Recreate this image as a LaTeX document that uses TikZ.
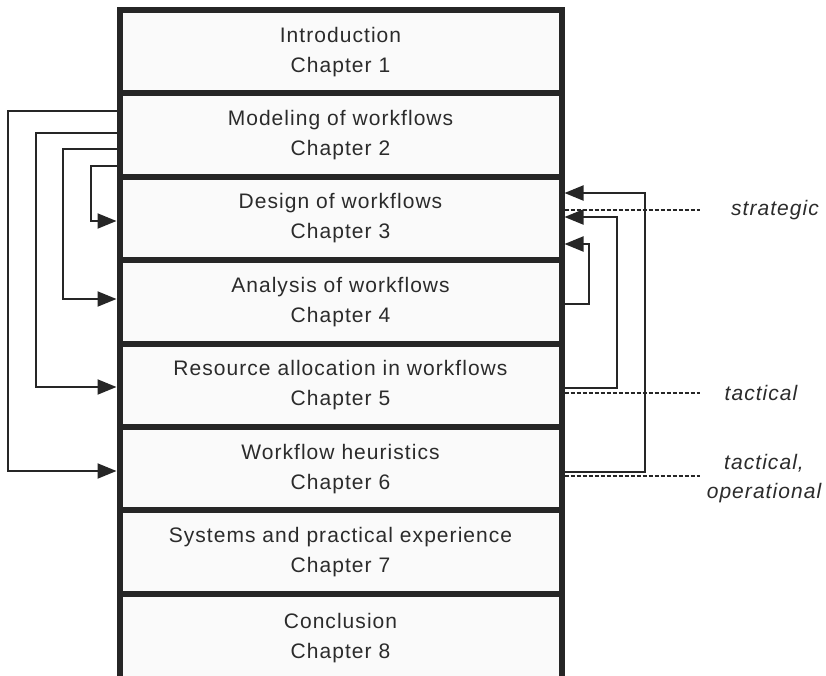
\documentclass[tikz,border=0pt]{standalone}
\usepackage{fontspec}
\setmainfont[LetterSpace=5]{Liberation Sans}
\usetikzlibrary{arrows.meta,calc}
\definecolor{ink}{HTML}{262626}
\definecolor{txt}{HTML}{2B2B2B}
\definecolor{boxfill}{HTML}{FAFAFA}
\tikzset{
  chap/.style={draw=ink, fill=boxfill, line width=6pt, minimum width=442pt,
    minimum height=83.4pt, inner sep=0pt, outer sep=3pt, align=center,
    text=txt, font=\fontsize{21}{30}\selectfont},
  conn/.style={draw=ink, line width=2pt, -{Triangle[length=19pt,width=15pt]}},
  dashline/.style={draw=ink, line width=1.1pt, dash pattern=on 4pt off 2pt},
  lvl/.style={text=txt, align=center, inner sep=0pt,
    font=\fontsize{21}{29}\selectfont\itshape}
}
\begin{document}
\begin{tikzpicture}[x=1pt,y=-1pt]
\useasboundingbox (0,0) rectangle (826,675);
\node[chap] (b1) at (340.5,51.7) {Introduction\\Chapter 1};
\node[chap] (b2) at (340.5,135.1) {Modeling of workflows\\Chapter 2};
\node[chap] (b3) at (340.5,218.5) {Design of workflows\\Chapter 3};
\node[chap] (b4) at (340.5,301.9) {Analysis of workflows\\Chapter 4};
\node[chap] (b5) at (340.5,385.3) {Resource allocation in workflows\\Chapter 5};
\node[chap] (b6) at (340.5,468.7) {Workflow heuristics\\Chapter 6};
\node[chap] (b7) at (340.5,552.1) {Systems and practical experience\\Chapter 7};
\node[chap, minimum height=95pt, text depth=11.6pt] (b8) at (340.5,641.3) {Conclusion\\Chapter 8};
% left feedback arrows
\draw[conn] ($(b2.west)+(0,-24)$) -- ++(-108.5,0) |- ($(b6.west)+(0,2.3)$);
\draw[conn] ($(b2.west)+(0,-2)$) -- ++(-80.5,0) |- ($(b5.west)+(0,1.7)$);
\draw[conn] ($(b2.west)+(0,14)$) -- ++(-53.5,0) |- ($(b4.west)+(0,-2.9)$);
\draw[conn] ($(b2.west)+(0,31)$) -- ++(-25.5,0) |- ($(b3.west)+(0,2.5)$);
% right feedback arrows
\draw[conn] ($(b6.east)+(0,3.3)$) -- ++(80.5,0) |- ($(b3.east)+(0,-25.5)$);
\draw[conn] ($(b5.east)+(0,2.7)$) -- ++(52.5,0) |- ($(b3.east)+(0,-1.5)$);
\draw[conn] ($(b4.east)+(0,2.1)$) -- ++(24.5,0) |- ($(b3.east)+(0,25.5)$);
% levels
\node[lvl] (ls) at (775,210) {strategic};
\node[lvl] (lt) at (761,393) {tactical};
\node[lvl] (lo) at (764,479) {tactical,\\operational};
\draw[dashline] ($(b3.east)+(0,-8.5)$) -- ++(135.5,0) coordinate (ds);
\draw[dashline] ($(b5.east)+(0,7.7)$) -- ++(135.5,0) coordinate (dt);
\draw[dashline] ($(b6.east)+(0,7.3)$) -- ++(135.5,0) coordinate (do);
\end{tikzpicture}
\end{document}
